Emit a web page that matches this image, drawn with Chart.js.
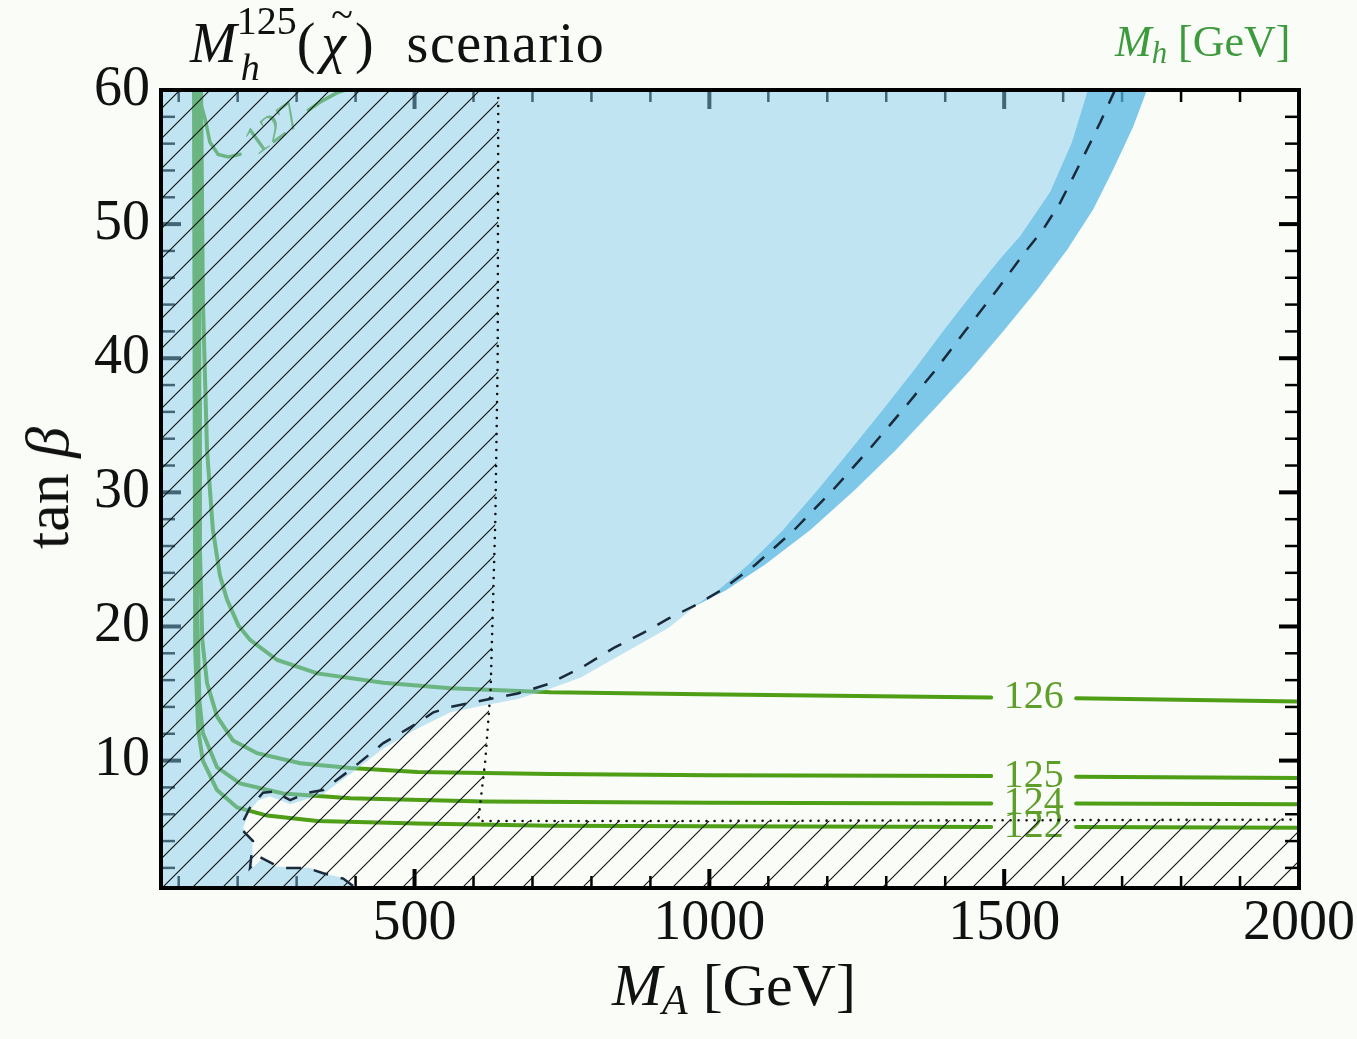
<!DOCTYPE html>
<html>
<head>
<meta charset="utf-8">
<title>Mh125(chi) scenario</title>
<script src="https://cdn.jsdelivr.net/npm/chart.js@4.4.0/dist/chart.umd.min.js"></script>
<style>
  html, body { margin: 0; padding: 0; background: #fafcf8; }
  #wrap { position: relative; width: 1357px; height: 1039px; overflow: hidden; }
  #chart { position: absolute; left: 0; top: 0; }
  .txt { position: absolute; font-family: 'Liberation Serif', serif; line-height: 1; white-space: nowrap; color: #111; }
  .sb { font-size: 0.7em; vertical-align: -0.22em; line-height: 0; }
  #title { left: 190px; top: 15px; font-size: 56px; }
  #title .ss { display: inline-block; position: relative; width: 60px; height: 0; }
  #title .sup { position: absolute; left: 0; bottom: 21px; font-size: 40px; line-height: 1; }
  #title .sub { position: absolute; left: 4px; top: -14px; font-size: 38px; line-height: 1; }
  #title .chi { display: inline-block; position: relative; margin-left: 6px; }
  #title .tl { position: absolute; left: 10px; top: -20px; font-size: 40px; line-height: 1; }
  #title .rp { margin-left: 9px; }
  #title .scn { margin-left: 33px; letter-spacing: 1.5px; }
  #xtitle { left: 612px; top: 955px; font-size: 60px; }
  #ytitle { left: 47px; top: 488px; font-size: 62px; transform: translate(-50%, -50%) rotate(-90deg); }
  #mhlab { left: 1115px; top: 20px; font-size: 44px; color: #3d9a3d; }
</style>
</head>
<body>
<div id="wrap">
  <canvas id="chart" width="1357" height="1039"></canvas>
  <div class="txt" id="title"><i>M</i><span class="ss"><span class="sup">125</span><span class="sub"><i>h</i></span></span>(<span class="chi"><i>χ</i><span class="tl">~</span></span><span class="rp">)</span><span class="scn">scenario</span></div>
  <div class="txt" id="mhlab"><i>M</i><span class="sb"><i>h</i></span> [GeV]</div>
  <div class="txt" id="xtitle"><i>M</i><span class="sb"><i>A</i></span> [GeV]</div>
  <div class="txt" id="ytitle">tan&nbsp;<i>β</i></div>
</div>
<script>
// axes
const xMajor = [500, 1000, 1500, 2000];
const xMinor = [100, 200, 300, 400, 600, 700, 800, 900, 1100, 1200, 1300, 1400, 1600, 1700, 1800, 1900];
const yMajor = [10, 20, 30, 40, 50, 60];
const yMinor = [2, 4, 6, 8, 12, 14, 16, 18, 22, 24, 26, 28, 32, 34, 36, 38, 42, 44, 46, 48, 52, 54, 56, 58];

// Mh contours (MA in GeV, tan beta); null marks the break for the label
const mh122_mA = [126, 128, 133, 141, 165, 199, 250, 335, 505, 731, 1000, 1478, 1550, 1622, 2000];
const mh122_tb = [60, 18.2, 12.3, 10.0, 7.8, 6.5, 5.9, 5.5, 5.3, 5.15, 5.1, 5.05, null, 5.05, 5.0];
const mh124_mA = [130, 131, 135, 141, 165, 204, 277, 391, 617, 1000, 1478, 1550, 1622, 2000];
const mh124_tb = [60, 22, 14.5, 12.05, 9.5, 8.3, 7.55, 7.2, 6.95, 6.85, 6.8, null, 6.8, 6.75];
const mh125_mA = [134, 135, 136, 140, 148, 165, 192, 233, 306, 391, 505, 731, 1000, 1478, 1550, 1622, 2000];
const mh125_tb = [60, 36.9, 25.7, 19.0, 15.8, 13.3, 11.5, 10.55, 9.8, 9.45, 9.15, 9.0, 8.9, 8.85, null, 8.8, 8.7];
const mh126_mA = [138, 141, 148, 158, 170, 182, 201, 221, 267, 335, 447, 561, 731, 986, 1478, 1550, 1622, 2000];
const mh126_tb = [60, 44.4, 33.2, 27.2, 23.8, 22.0, 20.1, 19.0, 17.5, 16.5, 15.8, 15.4, 15.1, 14.95, 14.7, null, 14.65, 14.4];
const mh127_mA = [131, 145, 153, 167, 184, 204, 262, 320, 340, 369, 383];
const mh127_tb = [60, 57.8, 56.1, 55.2, 55.0, 55.2, null, 58.5, 59.1, 59.8, 60];

const contourText = ['126', '125', '124', '122'];
const contourLabX = [1550, 1550, 1550, 1550];
const contourLabY = [14.68, 8.83, 6.8, 5.05];

// expected exclusion (dashed)
const exp_mA = [1688, 1663, 1642, 1617, 1595, 1566, 1535, 1488, 1435, 1383, 1329, 1271, 1210, 1144, 1078, 1020, 977, 931, 887, 838, 782, 726, 675, 617, 561, 532, 505, 447, 391, 345, 318, 289, 262, 243, 221, 204, 226, 221, 238, 260, 277, 318, 345, 379, 400];
const exp_tb = [60, 57.6, 55.7, 53.5, 51.6, 49.6, 47.9, 45.1, 42.1, 39.1, 36.2, 33.2, 30.2, 27.2, 24.6, 22.7, 21.6, 20.6, 19.5, 18.4, 16.9, 15.7, 15.0, 14.5, 14.0, 13.6, 12.8, 11.3, 9.3, 7.8, 7.6, 7.05, 7.7, 7.6, 6.5, 5.0, 4.0, 2.0, 2.8, 2.3, 2.0, 2.0, 1.6, 1.2, 0.5];

// observed exclusion region (light blue)
const obs_mA = [70, 1742, 1719, 1685, 1651, 1607, 1556, 1500, 1442, 1381, 1317, 1247, 1171, 1094, 1028, 979, 931, 887, 838, 782, 726, 675, 617, 561, 505, 447, 391, 345, 289, 255, 235, 221, 209, 225, 225, 242, 264, 289, 323, 349, 383, 405, 70, 70];
const obs_tb = [60, 60, 57.3, 54.1, 51.1, 48.1, 45.1, 42.1, 39.1, 36.2, 33.2, 30.2, 27.2, 24.6, 22.7, 21.6, 19.9, 18.8, 17.6, 16.2, 15.3, 14.6, 14.1, 13.6, 12.4, 10.9, 9.0, 7.5, 6.75, 7.35, 7.05, 6.3, 5.0, 3.9, 2.0, 2.7, 2.1, 2.05, 2.0, 1.55, 1.2, 0.5, 0.5, 60];

// uncertainty band around the expected limit: left edge down, right edge up
const band_mA = [1642, 1615, 1578, 1527, 1493, 1451, 1398, 1347, 1295, 1240, 1184, 1125, 1066, 1015, 977, 979, 1028, 1094, 1171, 1247, 1317, 1381, 1442, 1500, 1556, 1607, 1651, 1685, 1719, 1742, 1642];
const band_tb = [60, 56.1, 52.4, 49.1, 47.4, 45.1, 42.1, 39.1, 36.2, 33.2, 30.2, 27.2, 24.6, 22.7, 21.6, 21.6, 22.7, 24.6, 27.2, 30.2, 33.2, 36.2, 39.1, 42.1, 45.1, 48.1, 51.1, 54.1, 57.3, 60, 60];

// hatched region and its dotted boundary
const hatch_mA = [70, 642, 641, 637, 629, 620, 608, 1000, 2000, 2000, 70, 70];
const hatch_tb = [60, 60, 40, 28, 15.3, 10, 5.5, 5.5, 5.6, 0.5, 0.5, 60];
const dot_mA = [642, 641, 637, 629, 620, 608, 1000, 2000];
const dot_tb = [60, 40, 28, 15.3, 10, 5.5, 5.5, 5.6];

const green = 'rgb(78,158,22)';
const labelGreen = '#5f9e2a';
const serif = "'Liberation Serif', serif";

function pts(xs, ys) {
  return xs.map((x, i) => ({ x: x, y: ys[i] }));
}

function hatchPattern() {
  const c = document.createElement('canvas');
  c.width = 30; c.height = 30;
  const g = c.getContext('2d');
  g.strokeStyle = '#111';
  g.lineWidth = 1.1;
  g.beginPath();
  g.moveTo(-3, 33); g.lineTo(33, -3);
  g.moveTo(-3, 3); g.lineTo(3, -3);
  g.moveTo(27, 33); g.lineTo(33, 27);
  g.stroke();
  return g.createPattern(c, 'repeat');
}

function contour(xs, ys, w) {
  return { data: pts(xs, ys), borderColor: green, borderWidth: w, fill: false, order: 10, borderCapStyle: 'round' };
}

const datasets = [
  contour(mh122_mA, mh122_tb, 4),
  contour(mh124_mA, mh124_tb, 4),
  contour(mh125_mA, mh125_tb, 4),
  contour(mh126_mA, mh126_tb, 4),
  contour(mh127_mA, mh127_tb, 3.5),
  { data: pts(obs_mA, obs_tb), borderWidth: 0, backgroundColor: 'rgba(134,204,236,0.5)', fill: 'shape', order: 8 },
  { data: pts(band_mA, band_tb), borderWidth: 0, backgroundColor: 'rgba(60,172,221,0.5)', fill: 'shape', order: 7 },
  { data: pts(hatch_mA, hatch_tb), borderWidth: 0, backgroundColor: hatchPattern(), fill: 'shape', order: 6 },
  { data: pts(dot_mA, dot_tb), borderColor: '#111', borderWidth: 2.6, borderDash: [0, 8], borderCapStyle: 'round', fill: false, order: 5 },
  { data: pts(exp_mA, exp_tb), borderColor: '#1b2a3a', borderWidth: 2.5, borderDash: [15, 13], fill: false, order: 4 }
];

// inward ticks on all four sides, contour labels, and the frame
const frameTicks = {
  id: 'frameTicks',
  beforeDatasetsDraw(chart) {
    const { ctx, chartArea: a, scales: { x, y } } = chart;
    ctx.save();
    ctx.strokeStyle = '#000';
    const seg = (x1, y1, x2, y2, w) => {
      ctx.lineWidth = w;
      ctx.beginPath(); ctx.moveTo(x1, y1); ctx.lineTo(x2, y2); ctx.stroke();
    };
    xMinor.forEach(v => { const p = x.getPixelForValue(v); seg(p, a.bottom, p, a.bottom - 12, 2.5); seg(p, a.top, p, a.top + 12, 2.5); });
    xMajor.forEach(v => { const p = x.getPixelForValue(v); seg(p, a.bottom, p, a.bottom - 19, 4); seg(p, a.top, p, a.top + 19, 4); });
    yMinor.forEach(v => { const p = y.getPixelForValue(v); seg(a.left, p, a.left + 14, p, 2.5); seg(a.right, p, a.right - 14, p, 2.5); });
    yMajor.forEach(v => { const p = y.getPixelForValue(v); seg(a.left, p, a.left + 20, p, 4); seg(a.right, p, a.right - 20, p, 4); });

    ctx.fillStyle = labelGreen;
    ctx.font = '40px ' + serif;
    ctx.textAlign = 'center';
    ctx.textBaseline = 'middle';
    contourText.forEach((t, i) => {
      ctx.fillText(t, x.getPixelForValue(contourLabX[i]), y.getPixelForValue(contourLabY[i]));
    });
    ctx.save();
    ctx.translate(x.getPixelForValue(262), y.getPixelForValue(57.0));
    ctx.rotate(-0.62);
    ctx.fillText('127', 0, 0);
    ctx.restore();
    ctx.restore();
  },
  afterDatasetsDraw(chart) {
    const { ctx, chartArea: a } = chart;
    ctx.save();
    ctx.strokeStyle = '#000';
    ctx.lineWidth = 4;
    ctx.strokeRect(a.left, a.top, a.right - a.left, a.bottom - a.top);
    ctx.restore();
  }
};

new Chart(document.getElementById('chart'), {
  type: 'line',
  data: { datasets: datasets },
  options: {
    responsive: false,
    animation: false,
    events: [],
    layout: { padding: { top: 90, right: 58, left: 0, bottom: 0 } },
    elements: { point: { radius: 0 }, line: { tension: 0 } },
    plugins: { legend: { display: false }, tooltip: { enabled: false } },
    scales: {
      x: {
        type: 'linear', min: 70, max: 2000,
        grid: { display: false }, border: { display: false },
        afterBuildTicks: s => { s.ticks = xMajor.map(v => ({ value: v })); },
        afterFit: s => { s.height = 151; s.paddingLeft = 0; s.paddingRight = 0; },
        ticks: { font: { family: serif, size: 56 }, color: '#111', padding: -5, maxRotation: 0, autoSkip: false, callback: v => String(v) }
      },
      y: {
        type: 'linear', min: 0.5, max: 60,
        grid: { display: false }, border: { display: false },
        afterBuildTicks: s => { s.ticks = yMajor.map(v => ({ value: v })); },
        afterFit: s => { s.width = 161; s.paddingTop = 0; s.paddingBottom = 0; },
        ticks: { font: { family: serif, size: 56 }, color: '#111', padding: 3, autoSkip: false, callback: v => String(v) }
      }
    }
  },
  plugins: [frameTicks]
});
</script>
</body>
</html>
